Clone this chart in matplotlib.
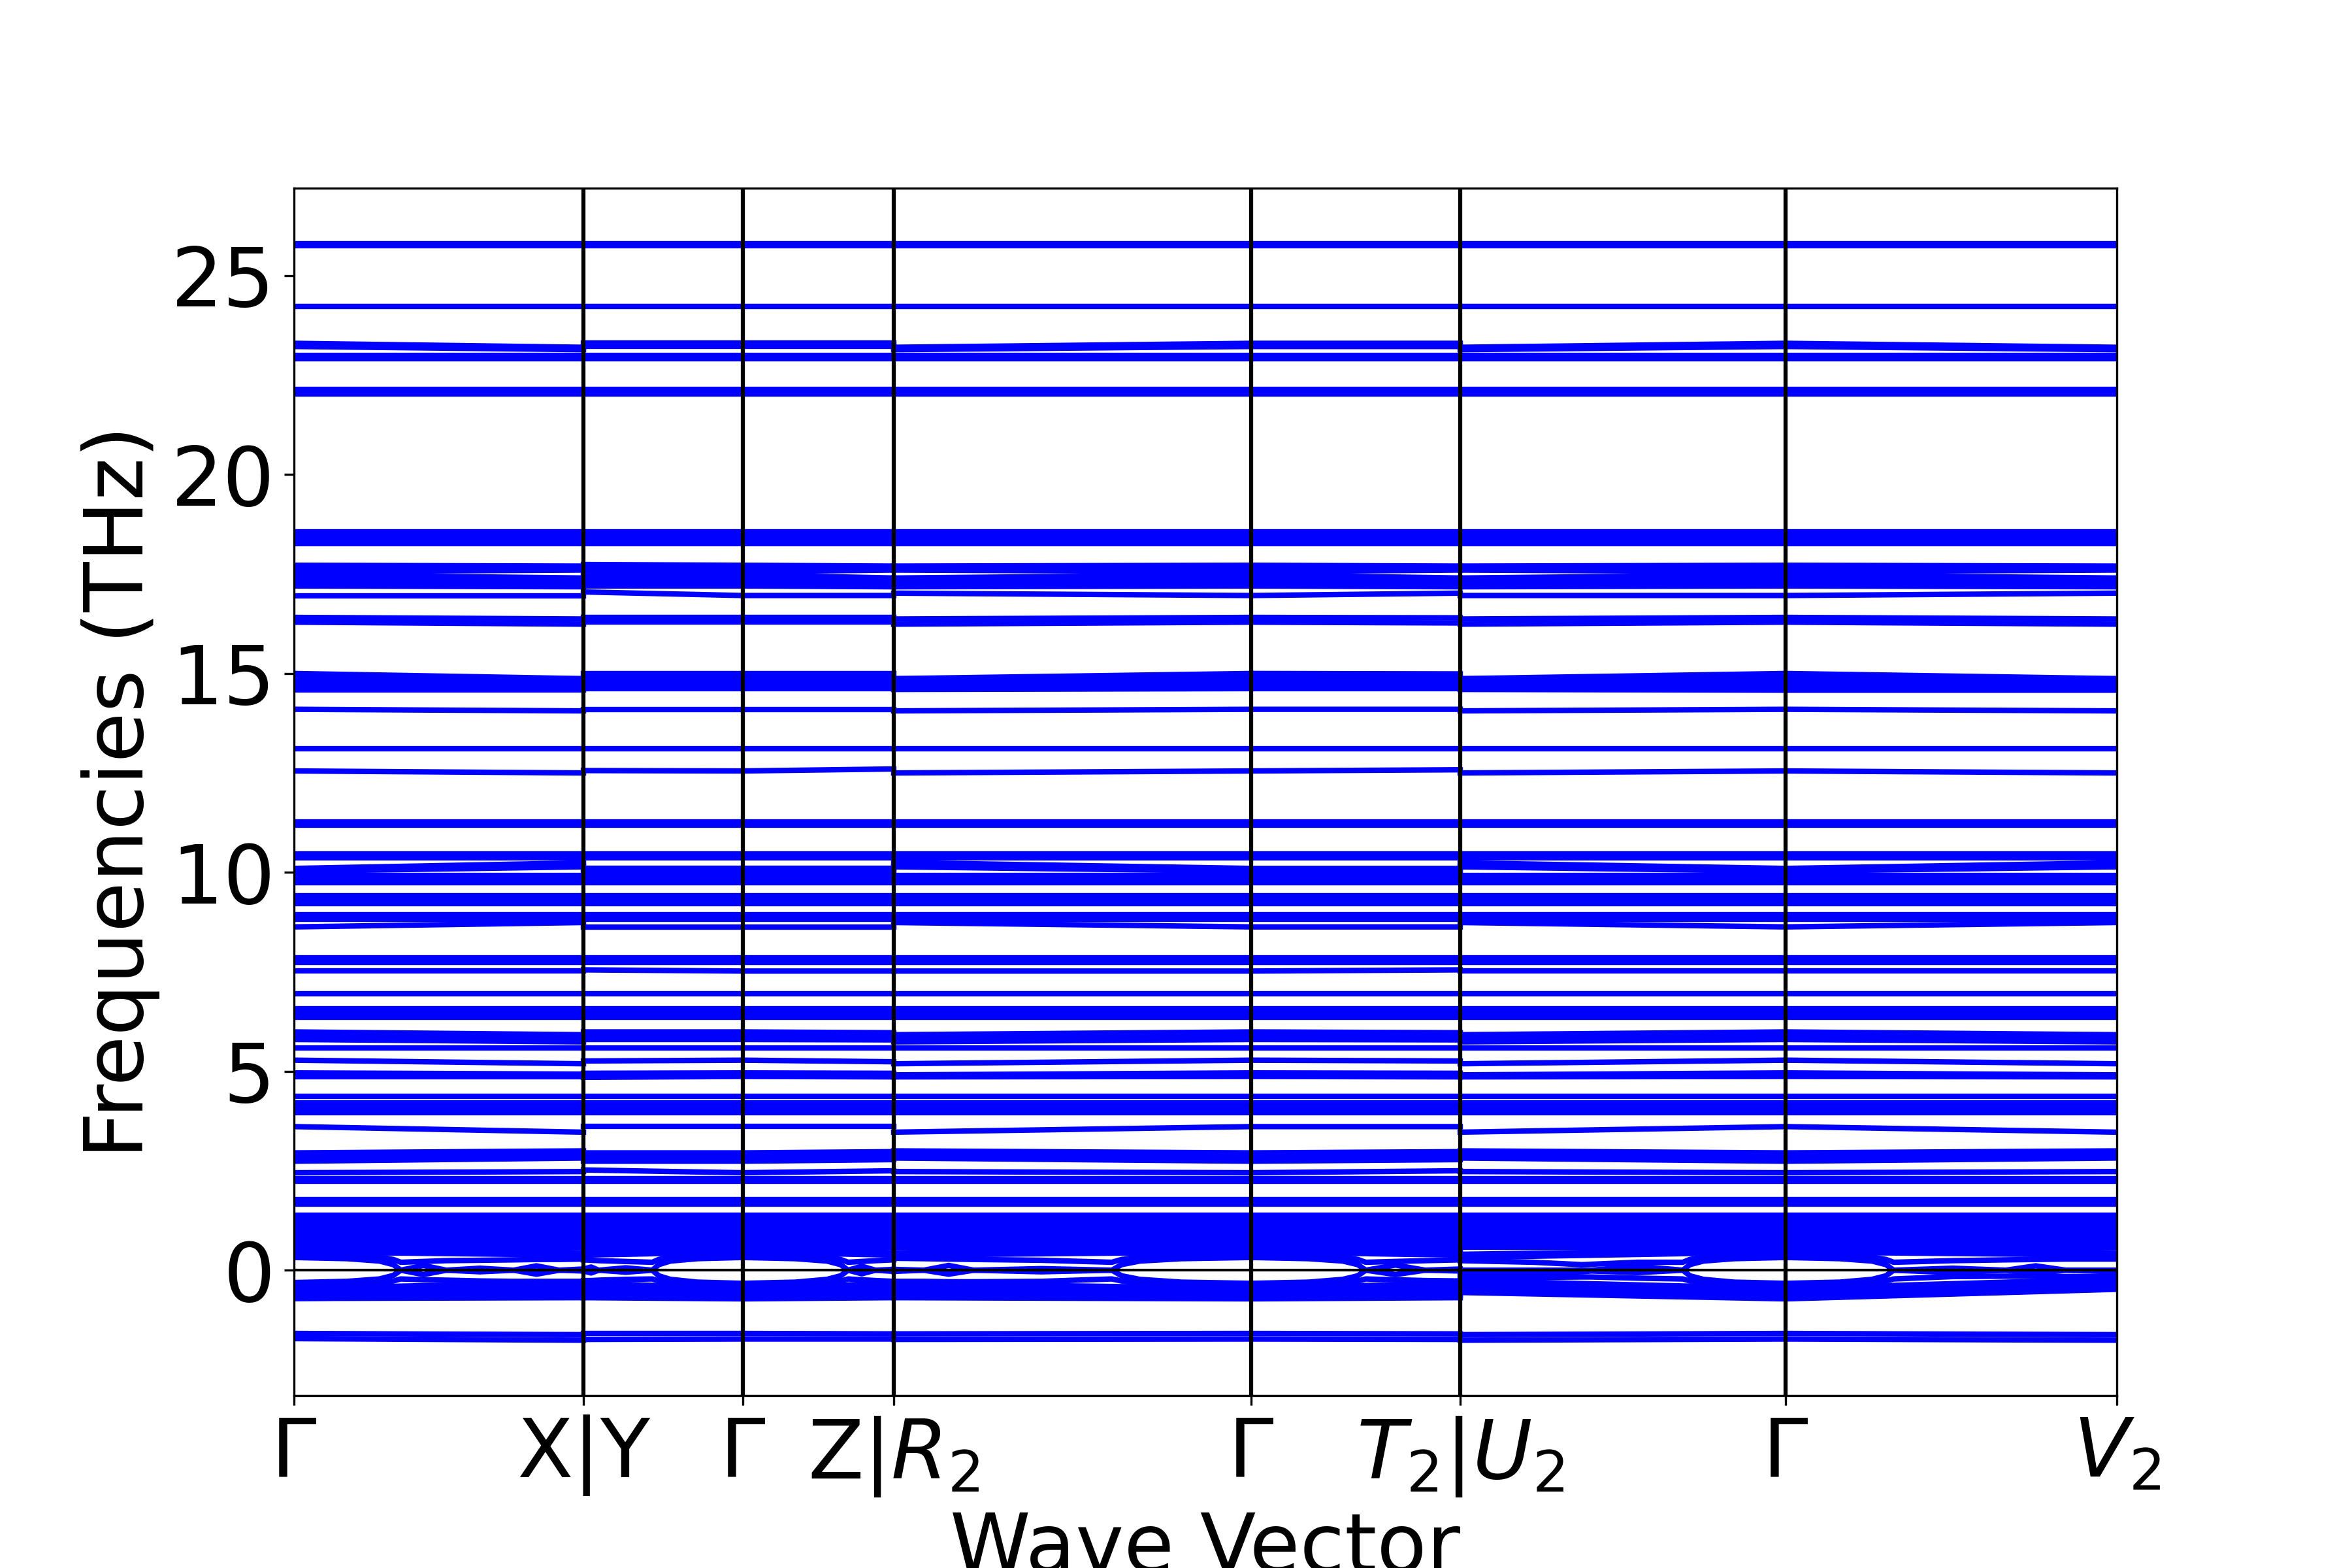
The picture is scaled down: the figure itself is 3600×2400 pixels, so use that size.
import matplotlib
matplotlib.use('Agg')
import matplotlib.pyplot as plt

# high-symmetry points along the path (fraction of the path length)
kpoints = [0.0, 0.1588, 0.2462, 0.3290, 0.5251, 0.6398, 0.8182, 1.0]
klabels = ['Γ', 'X|Y', 'Γ', 'Z|$R_2$', 'Γ', '$T_2$|$U_2$', 'Γ', '$V_2$']

# band values at the nodes  Γ X | Y Γ Z | R2 Γ T2 | U2 Γ V2
seg_nodes = [(0, 1), (2, 3, 4), (5, 6, 7), (8, 9, 10)]
seg_q = [kpoints[0:2], kpoints[1:4], kpoints[3:6], kpoints[5:8]]

# nearly dispersionless bands (THz)
flat_bands = [25.80, 25.75, 24.22, 22.99, 22.92, 22.14, 22.08, 22.02,
              18.56, 18.47, 18.40, 18.27, 14.87, 14.77, 14.66, 13.11,
              11.27, 11.18, 10.47, 10.36, 9.93, 9.84, 9.74, 9.42, 9.32,
              9.22, 8.93, 8.83, 7.85, 7.74, 6.95, 6.58, 6.44, 6.36, 5.59,
              4.37, 4.21, 4.08, 3.96, 2.30, 2.24, 1.78, 1.67,
              1.39, 1.33, 1.27, 1.20, 1.14, 1.07, 1.00, 0.93, 0.86, 0.79,
              0.72, 0.65, 0.58]

bands = [
    [23.30, 23.20, 23.30, 23.30, 23.30, 23.20, 23.30, 23.30, 23.20, 23.30, 23.20],
    [23.22, 23.14, 23.22, 23.22, 23.22, 23.14, 23.22, 23.22, 23.14, 23.22, 23.14],
    [17.72, 17.70, 17.74, 17.72, 17.70, 17.70, 17.72, 17.70, 17.70, 17.72, 17.70],
    [17.64, 17.62, 17.65, 17.64, 17.62, 17.62, 17.64, 17.62, 17.62, 17.64, 17.62],
    [17.56, 17.60, 17.58, 17.56, 17.60, 17.60, 17.56, 17.60, 17.60, 17.56, 17.60],
    [17.48, 17.40, 17.45, 17.48, 17.40, 17.40, 17.48, 17.40, 17.40, 17.48, 17.40],
    [17.40, 17.32, 17.38, 17.40, 17.33, 17.32, 17.40, 17.33, 17.32, 17.40, 17.32],
    [17.32, 17.26, 17.30, 17.32, 17.26, 17.26, 17.32, 17.26, 17.26, 17.32, 17.26],
    [17.20, 17.18, 17.20, 17.20, 17.18, 17.18, 17.20, 17.18, 17.18, 17.20, 17.18],
    [16.96, 16.96, 17.05, 16.96, 16.96, 17.02, 16.96, 17.02, 16.96, 16.96, 17.02],
    [16.41, 16.37, 16.41, 16.41, 16.41, 16.37, 16.41, 16.40, 16.37, 16.41, 16.37],
    [16.29, 16.24, 16.29, 16.29, 16.29, 16.24, 16.29, 16.27, 16.24, 16.29, 16.24],
    [15.00, 14.87, 15.00, 15.00, 15.00, 14.87, 15.00, 14.99, 14.87, 15.00, 14.87],
    [14.58, 14.58, 14.62, 14.62, 14.62, 14.60, 14.62, 14.62, 14.60, 14.58, 14.58],
    [14.10, 14.06, 14.10, 14.10, 14.10, 14.06, 14.10, 14.10, 14.06, 14.10, 14.06],
    [12.55, 12.50, 12.56, 12.55, 12.60, 12.50, 12.55, 12.58, 12.50, 12.55, 12.50],
    [10.10, 10.24, 10.10, 10.10, 10.10, 10.25, 10.10, 10.10, 10.24, 10.10, 10.24],
    [10.03, 10.14, 10.03, 10.03, 10.03, 10.14, 10.03, 10.03, 10.14, 10.03, 10.14],
    [8.63, 8.74, 8.63, 8.63, 8.63, 8.74, 8.63, 8.63, 8.74, 8.63, 8.74],
    [7.52, 7.52, 7.55, 7.52, 7.52, 7.52, 7.52, 7.55, 7.52, 7.52, 7.52],
    [5.99, 5.92, 5.99, 5.99, 5.97, 5.92, 5.99, 5.97, 5.92, 5.99, 5.92],
    [5.90, 5.82, 5.90, 5.90, 5.88, 5.82, 5.90, 5.88, 5.82, 5.90, 5.82],
    [5.80, 5.74, 5.80, 5.80, 5.79, 5.74, 5.80, 5.79, 5.74, 5.80, 5.74],
    [5.28, 5.19, 5.26, 5.28, 5.24, 5.19, 5.28, 5.26, 5.19, 5.28, 5.19],
    [4.96, 4.93, 4.95, 4.96, 4.95, 4.91, 4.96, 4.95, 4.91, 4.96, 4.91],
    [4.86, 4.86, 4.85, 4.87, 4.86, 4.86, 4.87, 4.86, 4.86, 4.87, 4.86],
    [3.61, 3.47, 3.61, 3.61, 3.61, 3.47, 3.61, 3.61, 3.47, 3.61, 3.47],
    [2.95, 3.00, 2.95, 2.95, 2.98, 3.00, 2.95, 2.98, 3.00, 2.95, 3.00],
    [2.84, 2.90, 2.84, 2.84, 2.88, 2.90, 2.84, 2.88, 2.90, 2.84, 2.90],
    [2.74, 2.82, 2.74, 2.74, 2.78, 2.82, 2.74, 2.78, 2.82, 2.74, 2.82],
    [2.45, 2.48, 2.52, 2.45, 2.50, 2.48, 2.45, 2.50, 2.48, 2.45, 2.48],
    [0.52, 0.44, 0.46, 0.52, 0.44, 0.44, 0.52, 0.45, 0.40, 0.52, 0.44],
    [0.46, 0.38, 0.38, 0.46, 0.38, 0.38, 0.46, 0.38, 0.32, 0.46, 0.38],
    [-0.46, -0.30, -0.32, -0.46, -0.33, -0.33, -0.46, -0.32, -0.26, -0.46, -0.22],
    [-0.52, -0.40, -0.40, -0.52, -0.40, -0.40, -0.52, -0.40, -0.33, -0.52, -0.29],
    [-0.58, -0.48, -0.48, -0.58, -0.48, -0.48, -0.58, -0.47, -0.40, -0.58, -0.35],
    [-0.64, -0.56, -0.56, -0.64, -0.56, -0.56, -0.64, -0.55, -0.47, -0.64, -0.41],
    [-0.71, -0.64, -0.64, -0.71, -0.64, -0.64, -0.71, -0.63, -0.53, -0.71, -0.47],
    [-0.71, -0.69, -0.69, -0.72, -0.69, -0.69, -0.72, -0.69, -0.56, -0.72, -0.48],
    [-1.59, -1.62, -1.59, -1.59, -1.60, -1.60, -1.59, -1.60, -1.62, -1.59, -1.62],
    [-1.72, -1.76, -1.74, -1.73, -1.73, -1.74, -1.73, -1.74, -1.76, -1.73, -1.76],
]

# soft modes around zero, sampled more finely (one list per path segment)
low_q = [
    [0.0, 0.0293, 0.0469, 0.0545, 0.0586, 0.071, 0.0836, 0.102, 0.1205, 0.133, 0.1455, 0.1588],
    [0.1588, 0.1630, 0.1672, 0.1820, 0.1966, 0.2001, 0.2065, 0.2214, 0.2462, 0.2751,
     0.2924, 0.2999, 0.3040, 0.3115, 0.3190, 0.3290],
    [0.3290, 0.3455, 0.3592, 0.3729, 0.4100, 0.4487, 0.4540, 0.4640, 0.4869, 0.5251,
     0.5566, 0.5754, 0.5836, 0.5880, 0.6043, 0.6206, 0.6398],
    [0.6398, 0.6800, 0.7065, 0.7117, 0.7370, 0.7619, 0.7658, 0.7732, 0.7900, 0.8182,
     0.8479, 0.8657, 0.8734, 0.8776, 0.9100, 0.9391, 0.9555, 0.9720, 1.0000],
]
low_upper = [
    [0.32, 0.29, 0.23, 0.14, 0.00, 0.12, 0.00, 0.05, 0.00, 0.11, 0.00, 0.03],
    [0.03, 0.08, 0.00, 0.06, 0.00, 0.14, 0.23, 0.29, 0.32, 0.29, 0.23, 0.14, 0.00, 0.10, 0.00, 0.02],
    [0.02, 0.00, 0.12, 0.00, 0.04, 0.00, 0.14, 0.23, 0.29, 0.32, 0.29, 0.23, 0.14, 0.00, 0.13, 0.00, 0.03],
    [0.00, 0.00, 0.00, 0.00, 0.10, 0.00, 0.14, 0.23, 0.29, 0.32, 0.29, 0.23, 0.14, 0.00, 0.05,
     0.00, 0.11, 0.00, 0.00],
]
low_lower = [
    [-0.31, -0.28, -0.22, -0.13, 0.00, -0.11, 0.00, -0.04, 0.00, -0.10, 0.00, -0.02],
    [-0.02, -0.07, 0.00, -0.05, 0.00, -0.14, -0.23, -0.30, -0.33, -0.30, -0.23, -0.14, 0.00,
     -0.09, 0.00, -0.03],
    [-0.03, 0.00, -0.10, 0.00, -0.04, 0.00, -0.14, -0.23, -0.30, -0.33, -0.30, -0.23, -0.14,
     0.00, -0.11, 0.00, -0.02],
    [-0.10, -0.08, -0.04, -0.02, -0.06, 0.00, -0.14, -0.23, -0.30, -0.33, -0.30, -0.23, -0.14,
     0.00, -0.06, 0.00, -0.08, 0.00, -0.04],
]
edge_upper = [
    [0.40, 0.38, 0.33, 0.27, 0.20, 0.22, 0.24, 0.25, 0.26, 0.27, 0.27, 0.28],
    [0.26, 0.25, 0.24, 0.22, 0.20, 0.27, 0.33, 0.38, 0.40, 0.38, 0.33, 0.27, 0.20, 0.22, 0.24, 0.26],
    [0.30, 0.29, 0.28, 0.27, 0.25, 0.20, 0.27, 0.33, 0.38, 0.40, 0.38, 0.33, 0.27, 0.20, 0.22,
     0.24, 0.26],
    [0.24, 0.20, 0.14, 0.15, 0.20, 0.20, 0.27, 0.33, 0.38, 0.40, 0.38, 0.33, 0.27, 0.20, 0.24,
     0.26, 0.27, 0.28, 0.28],
]
edge_lower = [
    [-0.40, -0.38, -0.33, -0.27, -0.22, -0.24, -0.25, -0.27, -0.28, -0.28, -0.28, -0.28],
    [-0.26, -0.26, -0.25, -0.23, -0.22, -0.27, -0.33, -0.38, -0.40, -0.38, -0.33, -0.27, -0.22,
     -0.24, -0.26, -0.28],
    [-0.28, -0.28, -0.29, -0.29, -0.28, -0.22, -0.27, -0.33, -0.38, -0.40, -0.38, -0.33, -0.27,
     -0.22, -0.24, -0.26, -0.27],
    [-0.20, -0.18, -0.17, -0.17, -0.20, -0.22, -0.27, -0.33, -0.38, -0.40, -0.38, -0.33, -0.27,
     -0.22, -0.16, -0.15, -0.15, -0.16, -0.16],
]

fig, ax = plt.subplots(figsize=(12, 8))

for f in flat_bands:
    ax.plot([0, 1], [f, f], color='b', lw=2)

for band in bands:
    for nodes, q in zip(seg_nodes, seg_q):
        ax.plot(q, [band[i] for i in nodes], color='b', lw=2)

for qs, up, lo, eu, el in zip(low_q, low_upper, low_lower, edge_upper, edge_lower):
    for curve in (up, lo, eu, el):
        ax.plot(qs, curve, color='b', lw=2)

for k in kpoints[1:-1]:
    ax.axvline(k, color='k', lw=1.5, zorder=3)
ax.axhline(0, color='k', lw=1.0, zorder=3)

ax.set_xlim(0, 1)
ax.set_ylim(-3.15, 27.2)
ax.set_xticks(kpoints)
ax.set_xticklabels(klabels)
ax.tick_params(labelsize=30)
ax.set_xlabel('Wave Vector', fontsize=30)
ax.set_ylabel('Frequencies (THz)', fontsize=30)

fig.savefig('out.png', dpi=300)
